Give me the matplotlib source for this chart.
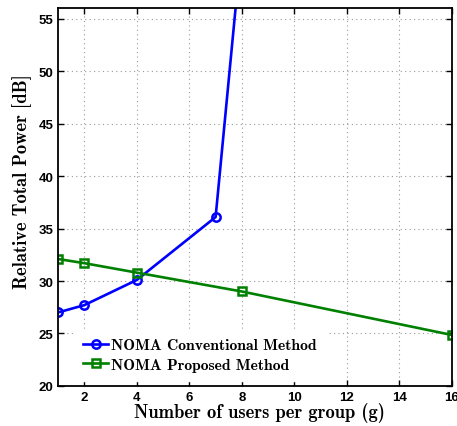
import numpy as np
import matplotlib.pyplot as plt

# donnees
g_conv = [1, 2, 4, 7, 8]
p_conv = [27.0, 27.7, 30.1, 36.1, 62.3]
g_prop = [1, 2, 4, 8, 16]
p_prop = [32.1, 31.7, 30.8, 29.0, 24.85]
xticks = [2, 4, 6, 8, 10, 12, 14, 16]
yticks = [20, 25, 30, 35, 40, 45, 50, 55]

fig = plt.figure(figsize=(4.57, 4.27), dpi=100)
ax = fig.add_axes([0.127, 0.094, 0.862, 0.884])

ax.plot(g_conv, p_conv, color='blue', lw=1.9, marker='o', ms=6,
        mfc='none', mew=1.8, label='NOMA Conventional Method')
ax.plot(g_prop, p_prop, color='green', lw=1.9, marker='s', ms=5.5,
        mfc='none', mew=1.8, label='NOMA Proposed Method')

ax.set_xlim(1, 16)
ax.set_ylim(20, 56)
ax.set_xticks(xticks)
ax.set_yticks(yticks)
ax.grid(True, linestyle=(0, (1, 3)), color='0.6', lw=0.8)
ax.tick_params(direction='in', top=True, right=True, length=4, width=1)
for lab in ax.get_xticklabels() + ax.get_yticklabels():
    lab.set_family('Liberation Sans')
    lab.set_weight('bold')
    lab.set_fontsize(9.5)
for s in ax.spines.values():
    s.set_linewidth(1.3)

ax.set_xlabel('Number of users per group (g)', family='cmb10', fontsize=13.3)
ax.xaxis.set_label_coords(0.51, -0.042)
ax.set_ylabel('Relative Total Power [dB]', family='cmb10', fontsize=13.3)
ax.yaxis.set_label_coords(-0.067, 0.543)

leg = ax.legend(loc='lower left', prop={'family': 'cmb10', 'size': 11.3},
                frameon=True, fancybox=False, framealpha=1, edgecolor='white',
                handlelength=1.6, handletextpad=0.2, borderaxespad=0.3,
                labelspacing=0.35, borderpad=0.6)
leg.set_bbox_to_anchor((0.028, 0.0), transform=ax.transAxes)

fig.savefig('out.png', dpi=100)
